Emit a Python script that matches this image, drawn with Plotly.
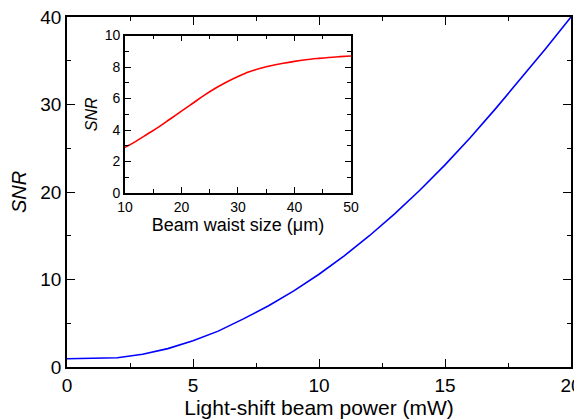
import plotly.graph_objects as go

# Main curve: SNR vs light-shift beam power
power_mw = [0, 1, 2, 3, 4, 5, 6, 7, 8, 9, 10, 11, 12, 13, 14, 15, 16, 17, 18, 19, 20]
snr_main = [0.95, 0.97, 1.05, 1.45, 2.1, 3.0, 4.1, 5.5, 7.0, 8.7, 10.6, 12.7, 15.0, 17.5, 20.2, 23.1, 26.2, 29.5, 32.9, 36.4, 40.0]

# Inset curve: SNR vs beam waist size
waist_um = [10, 12, 14, 16, 18, 20, 22, 24, 26, 28, 30, 32, 34, 36, 38, 40, 42, 44, 46, 48, 50]
snr_inset = [2.9, 3.3, 3.75, 4.2, 4.7, 5.2, 5.7, 6.2, 6.65, 7.05, 7.4, 7.7, 7.92, 8.1, 8.24, 8.36, 8.46, 8.54, 8.61, 8.66, 8.7]

FONT = "Liberation Sans, Arial, sans-serif"

fig = go.Figure()
fig.add_trace(go.Scatter(x=power_mw, y=snr_main, mode="lines",
                         line=dict(color="#0000ff", width=1.6), xaxis="x", yaxis="y",
                         showlegend=False))
fig.add_trace(go.Scatter(x=waist_um, y=snr_inset, mode="lines",
                         line=dict(color="#ff0000", width=1.6, shape="spline"), xaxis="x2", yaxis="y2",
                         showlegend=False))

axis_common = dict(showline=True, linecolor="black", linewidth=1.5, mirror="ticks",
                   ticks="inside", tickcolor="black", tickwidth=1.2, showgrid=False,
                   zeroline=False, automargin=False, ticklabeloverflow="allow")

fig.update_layout(
    width=582, height=420,
    margin=dict(l=59, r=19, t=8.5, b=60.5),
    paper_bgcolor="white", plot_bgcolor="white",
    font=dict(family=FONT, color="black"),
    xaxis=dict(domain=[0, 1], range=[0, 20], tickvals=[0, 5, 10, 15, 20], ticklen=8,
               minor=dict(tickvals=[2.5, 7.5, 12.5, 17.5], ticklen=4, ticks="inside", tickcolor="black", tickwidth=1.2),
               tickfont=dict(size=19), title=dict(text="Light-shift beam power (mW)", font=dict(size=21), standoff=5),
               **axis_common),
    yaxis=dict(domain=[0, 1], range=[0, 40], tickvals=[0, 10, 20, 30, 40], ticklen=8,
               minor=dict(tickvals=[5, 15, 25, 35], ticklen=4, ticks="inside", tickcolor="black", tickwidth=1.2),
               tickfont=dict(size=19), title=dict(text="<i>SNR</i>", font=dict(size=20), standoff=14),
               **axis_common),
    xaxis2=dict(domain=[0.115, 0.5635], anchor="y2", range=[10, 50], tickvals=[10, 20, 30, 40, 50], ticklen=6,
                minor=dict(tickvals=[15, 25, 35, 45], ticklen=4, ticks="inside", tickcolor="black", tickwidth=1.2),
                tickfont=dict(size=14), title=dict(text="Beam waist size (μm)", font=dict(size=18), standoff=0),
                **axis_common),
    yaxis2=dict(domain=[0.497, 0.947], anchor="x2", range=[0, 10], tickvals=[0, 2, 4, 6, 8, 10], ticklen=6,
                minor=dict(tickvals=[1, 3, 5, 7, 9], ticklen=4, ticks="inside", tickcolor="black", tickwidth=1.2),
                tickfont=dict(size=14), title=dict(text="<i>SNR</i>", font=dict(size=16), standoff=3),
                **axis_common),
)

fig.write_html("out.html")
